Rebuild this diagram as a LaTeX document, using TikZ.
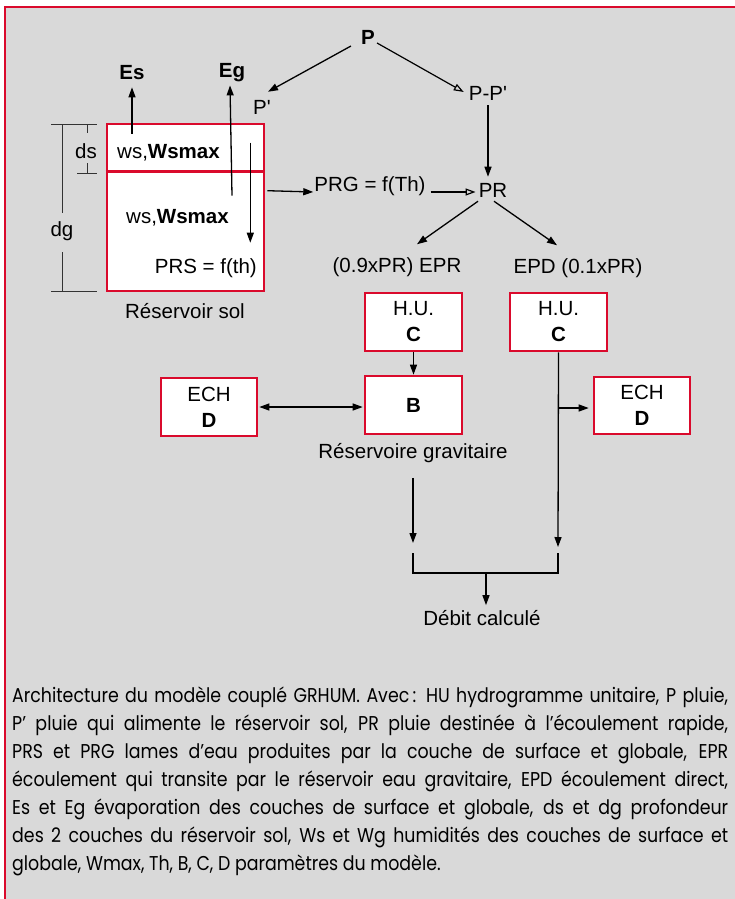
\documentclass[tikz,border=0pt]{standalone}
\usepackage{fontspec}
\setmainfont{Liberation Sans}[Ligatures=TeXOff]
\newfontfamily\capfont[FakeStretch=0.87]{Poppins}
\usetikzlibrary{arrows.meta,calc}
\definecolor{bggray}{HTML}{D9D9D9}
\definecolor{boxred}{HTML}{DA0A2C}
\newcommand\dfont{\fontsize{20.5}{26}\selectfont}
\tikzset{
  redbox/.style={draw=boxred, line width=2.6pt, fill=white, inner sep=0pt, align=center, font=\dfont},
  lbl/.style={inner sep=1pt, font=\dfont},
  arr/.style={-{Triangle[length=10pt,width=7pt]}, line width=1.3pt},
  oarr/.style={-{Triangle[open,length=10pt,width=7pt]}, line width=1.2pt},
  darr/.style={{Triangle[length=10pt,width=7pt]}-{Triangle[length=10pt,width=7pt]}, line width=1.3pt},
  plain/.style={line width=1.3pt},
  dim/.style={line width=1pt, draw=black!80},
}
\begin{document}
\begin{tikzpicture}[x=1pt,y=-1pt]
\useasboundingbox (0,0) rectangle (735,899);
\fill[white] (0,0) rectangle (735,899);
\fill[bggray] (5,7) rectangle (735,899);
\draw[boxred, line width=1.2pt] (5,899) -- (5,7) -- (735,7);

% top nodes
\node[lbl] (P) at (368,37) {\textbf{P}};
\node[lbl] (Pp) at (262,107) {P'};
\node[lbl] (PPp) at (488,93) {P-P'};
\node[lbl] (PR) at (493,190) {PR};
\node[lbl] (PRG) at (370,186) {PRG = f(Th)};
\node[lbl] (EPR) at (397,267) {(0.9xPR) EPR};
\node[lbl] (EPD) at (578,268) {EPD (0.1xPR)};

% soil reservoir
\node[redbox, minimum width=157, minimum height=167] (soil) at (185.5,207.5) {};
\draw[boxred, line width=2.6pt] ($(soil.north west)+(0,49)$) -- ($(soil.north east)+(0,49)$);
\node[lbl, anchor=west] (ws1) at (116,153) {ws,\textbf{Wsmax}};
\node[lbl, anchor=west] (ws2) at (125,218) {ws,\textbf{Wsmax}};
\node[lbl, anchor=east] (PRS) at (258,268) {PRS = f(th)};
\node[lbl] (Es) at (132,73) {\textbf{Es}};
\node[lbl] (Eg) at (232,73) {\textbf{Eg}};
\node[lbl] (sol) at (185,311) {Réservoir sol};

% dimensions
\node[lbl] (ds) at (86,151) {ds};
\node[lbl] (dg) at (62,231) {dg};
\draw[dim] (51,124) -- (97,124);
\draw[dim] (51,291) -- (97,291);
\draw[dim] (77,173) -- (97,173);
\draw[dim] (87,124) -- (87,133);
\draw[dim] (87,163) -- (87,173);
\draw[dim] (62,124) -- (62,213);
\draw[dim] (62,252) -- (62,291);

% boxes
\node[redbox, minimum width=97, minimum height=58] (HUl) at (413.5,322) {H.U.\\\textbf{C}};
\node[redbox, minimum width=97, minimum height=58] (HUr) at (558.5,322) {H.U.\\\textbf{C}};
\node[redbox, minimum width=97, minimum height=58] (B) at (413.5,405) {\textbf{B}};
\node[redbox, minimum width=96, minimum height=57] (ECHr) at (642,405.5) {ECH\\\textbf{D}};
\node[redbox, minimum width=96, minimum height=58] (ECHl) at (209,407) {ECH\\\textbf{D}};
\node[lbl] (RG) at (413,453) {Réservoire gravitaire};
\node[lbl] (Q) at (482,618) {Débit calculé};

\coordinate (gB) at (413,543);
\coordinate (gR) at (558,547);
\coordinate (j1) at (413,553);
\coordinate (j2) at (558,553);
\coordinate (jm) at (486,573);
\coordinate (br) at (558,408);

% connectors
\draw[arr] ($(P.west)+(-9,9)$) -- ($(Pp.north)+(6,-7)$);
\draw[oarr] ($(P.east)+(1,6)$) -- ($(PPp.west)+(-4,-1)$);
\draw[arr] ($(PPp.south)+(0,4)$) -- ($(PPp.south |- PR.north)+(0,-5)$);
\draw[arr] ($(soil.north east)+(2,68)$) -- ($(PRG.west)+(0,6)$);
\draw[oarr] ($(PRG.east)+(4,6)$) -- ($(PR.west)+(-2,2)$);
\draw[arr] ($(PR.south)+(-15,3)$) -- ($(EPR.north)+(20,-12)$);
\draw[arr] ($(PR.south)+(1,3)$) -- ($(EPD.north)+(-21,-12)$);
\draw[arr] ($(soil.north -| Es)+(0,11)$) -- ($(Es.south)+(0,6)$);
\draw[arr] ($(soil.north -| Eg)+(0,73)$) -- ($(Eg.south)+(-2,2)$);
\draw[arr] ($(soil.north east)+(-15,20)$) -- ($(soil.north east)+(-15,120)$);
\draw[arr] (HUl.south) -- (B.north);
\draw[darr, shorten <=1pt, shorten >=1pt] (ECHl.east) -- (ECHl.east -| B.west);
\draw[arr] ($(RG.south)+(0,14)$) -- (gB);
\draw[arr] (HUr.south) -- (gR);
\draw[arr, shorten >=4pt] (br) -- (br -| ECHr.west);
\draw[plain] (j1) -- (j1 |- jm) -- (j2 |- jm) -- (j2);
\draw[arr] (jm) -- ($(Q.north)+(4,-4)$);

% caption
\node[anchor=north west, inner sep=0pt, text width=716pt, align=justify,
      font=\capfont\fontsize{20}{28}\selectfont] (cap) at (12,687) {%
Architecture du modèle couplé GRHUM. Avec\,: HU hydrogramme unitaire, P pluie,\linebreak
P’ pluie qui alimente le réservoir sol, PR pluie destinée à l’écoulement rapide,\linebreak
PRS et PRG lames d’eau produites par la couche de surface et globale, EPR\linebreak
écoulement qui transite par le réservoir eau gravitaire, EPD écoulement direct,\linebreak
Es et Eg évaporation des couches de surface et globale, ds et dg profondeur\linebreak
des 2 couches du réservoir sol, Ws et Wg humidités des couches de surface et\linebreak
globale, Wmax, Th, B, C, D paramètres du modèle.\par};
\end{tikzpicture}
\end{document}
